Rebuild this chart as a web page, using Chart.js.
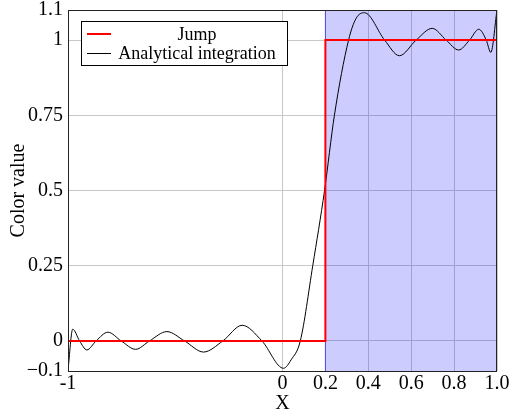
<!DOCTYPE html>
<html>
<head>
<meta charset="utf-8">
<script src="https://cdn.jsdelivr.net/npm/chart.js@4.4.1/dist/chart.umd.min.js"></script>
<style>
    html, body { margin: 0; padding: 0; background: #fff; }
    #wrap { width: 512px; height: 414px; }
</style>
</head>
<body>
<div id="wrap"><canvas id="chart" width="512" height="414"></canvas></div>
<script>
// Values
const xTicks = [-1, 0, 0.2, 0.4, 0.6, 0.8, 1.0];
const xTickLabels = ['-1', '0', '0.2', '0.4', '0.6', '0.8', '1.0'];
const yTicks = [-0.1, 0, 0.25, 0.5, 0.75, 1, 1.1];
const yTickLabels = ['\u22120.1', '0', '0.25', '0.5', '0.75', '1', '1.1'];

// Jump (step) series
const jumpX = [-1, 0.2, 0.2, 1];
const jumpY = [0, 0, 1, 1];

// Analytical integration curve
const curveX = [-1, -0.978, -0.946, -0.912, -0.869, -0.814, -0.752, -0.685, -0.62, -0.539,
    -0.457, -0.368, -0.278, -0.188, -0.096, 0.005, 0.04, 0.083, 0.141, 0.196, 0.242,
    0.308, 0.343, 0.382, 0.476, 0.545, 0.623, 0.698, 0.763, 0.821, 0.872, 0.915, 0.95,
    0.971, 1.0];
const curveY = [-0.097, 0.039, 0, -0.03, 0, 0.029, 0, -0.028, 0, 0.031,
    0, -0.037, 0, 0.052, 0, -0.091, -0.063, 0, 0.25, 0.5, 0.75,
    1.0, 1.072, 1.091, 1.0, 0.948, 1.0, 1.039, 1.0, 0.967, 1.0, 1.036, 1.0,
    0.959, 1.1];

// Shaded region
const shadeX = [0.2, 0.2, 1, 1];
const shadeY = [-0.1, 1.1, 1.1, -0.1];

const serif = "'Liberation Serif', 'DejaVu Serif', serif";

const toPoints = (xs, ys) => xs.map((x, i) => ({ x: x, y: ys[i] }));

// Boxed legend inside the plot, text centred like pgfplots
const boxLegend = {
    id: 'boxLegend',
    afterDraw(chart) {
        const ctx = chart.ctx;
        const area = chart.chartArea;
        const left = Math.round(area.left) + 13;
        const top = Math.round(area.top) + 11;
        const w = 206, h = 44;
        ctx.save();
        ctx.fillStyle = '#fff';
        ctx.fillRect(left, top, w, h);
        ctx.strokeStyle = '#000';
        ctx.lineWidth = 1;
        ctx.strokeRect(left + 0.5, top + 0.5, w, h);
        ctx.font = '18px ' + serif;
        ctx.textAlign = 'center';
        ctx.textBaseline = 'middle';
        const items = chart.data.datasets.filter(d => d.label);
        items.forEach((d, i) => {
            const y = top + 13 + i * 19;
            const off = d.borderWidth % 2 ? 0.5 : 0;
            ctx.strokeStyle = d.borderColor;
            ctx.lineWidth = d.borderWidth;
            ctx.beginPath();
            ctx.moveTo(left + 6, y + off);
            ctx.lineTo(left + 30, y + off);
            ctx.stroke();
            ctx.fillStyle = '#000';
            ctx.fillText(d.label, left + 116, y + 1);
        });
        ctx.restore();
    }
};

// Axis frame drawn over the data
const frame = {
    id: 'frame',
    afterDatasetsDraw(chart) {
        const ctx = chart.ctx;
        const a = chart.chartArea;
        ctx.save();
        ctx.strokeStyle = '#222';
        ctx.lineWidth = 1;
        ctx.strokeRect(Math.round(a.left) + 0.5, Math.round(a.top) + 0.5,
            Math.round(a.right - a.left) - 1, Math.round(a.bottom - a.top));
        ctx.restore();
    }
};

const ctx = document.getElementById('chart').getContext('2d');
new Chart(ctx, {
    type: 'scatter',
    data: {
        datasets: [{
            label: 'Jump',
            data: toPoints(jumpX, jumpY),
            showLine: true,
            borderColor: 'rgb(255, 0, 0)',
            borderWidth: 2,
            pointRadius: 0
        }, {
            label: 'Analytical integration',
            data: toPoints(curveX, curveY),
            showLine: true,
            borderColor: '#000',
            borderWidth: 1,
            pointRadius: 0,
            cubicInterpolationMode: 'monotone'
        }, {
            data: toPoints(shadeX, shadeY),
            showLine: true,
            borderColor: 'rgba(0, 0, 220, 0.6)',
            borderWidth: 1,
            backgroundColor: 'rgba(0, 0, 255, 0.2)',
            fill: 'start',
            pointRadius: 0
        }]
    },
    options: {
        responsive: false,
        animation: false,
        layout: {
            padding: { top: 10, right: 15, left: 0, bottom: 0 }
        },
        plugins: {
            legend: { display: false },
            tooltip: { enabled: false }
        },
        scales: {
            x: {
                type: 'linear',
                min: -1,
                max: 1,
                afterBuildTicks: scale => { scale.ticks = xTicks.map(v => ({ value: v })); },
                afterFit: scale => {
                    scale.height = 43;
                    scale.paddingLeft = 0;
                    scale.paddingRight = 0;
                },
                ticks: {
                    autoSkip: false,
                    maxRotation: 0,
                    padding: 3,
                    color: '#000',
                    font: { family: serif, size: 20, lineHeight: 1 },
                    callback: (value, index) => xTickLabels[index]
                },
                grid: { color: '#c8c8c8', tickLength: 0 },
                border: { display: false },
                title: {
                    display: true,
                    text: 'X',
                    color: '#000',
                    padding: 0,
                    font: { family: serif, size: 20, lineHeight: 1 }
                }
            },
            y: {
                type: 'linear',
                min: -0.1,
                max: 1.1,
                afterBuildTicks: scale => { scale.ticks = yTicks.map(v => ({ value: v })); },
                afterFit: scale => {
                    scale.width = 68;
                    scale.paddingTop = 0;
                    scale.paddingBottom = 0;
                },
                ticks: {
                    autoSkip: false,
                    padding: 5,
                    color: '#000',
                    font: { family: serif, size: 20, lineHeight: 1 },
                    callback: (value, index) => yTickLabels[index]
                },
                grid: { color: '#c8c8c8', tickLength: 0 },
                border: { display: false },
                title: {
                    display: true,
                    text: 'Color value',
                    color: '#000',
                    padding: { top: 7, bottom: 0 },
                    font: { family: serif, size: 20, lineHeight: 1.2 }
                }
            }
        }
    },
    plugins: [boxLegend, frame]
});
</script>
</body>
</html>
